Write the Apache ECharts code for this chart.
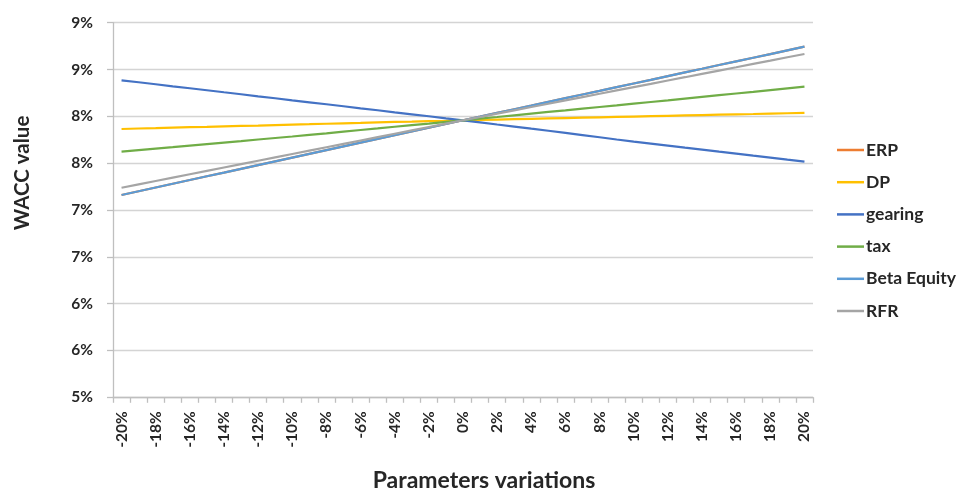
<!DOCTYPE html>
<html>
<head>
<meta charset="utf-8">
<script src="https://cdn.jsdelivr.net/npm/echarts@6/dist/echarts.min.js"></script>
<style>
  html, body { margin: 0; padding: 0; background: #ffffff; }
  #chart { width: 961px; height: 490px; }
</style>
</head>
<body>
<div id="chart"></div>
<script>
// Parameter variation steps (1% apart), labelled every 2%
const categories = [
  '-20%','-19%','-18%','-17%','-16%','-15%','-14%','-13%','-12%','-11%',
  '-10%','-9%','-8%','-7%','-6%','-5%','-4%','-3%','-2%','-1%',
  '0%','1%','2%','3%','4%','5%','6%','7%','8%','9%',
  '10%','11%','12%','13%','14%','15%','16%','17%','18%','19%','20%'
];

// WACC (%) for each sensitivity
const erp = [
  7.160,7.200,7.240,7.280,7.320,7.360,7.399,7.439,7.479,7.519,
  7.559,7.599,7.639,7.679,7.719,7.759,7.798,7.838,7.878,7.918,
  7.958,7.997,8.037,8.076,8.115,8.155,8.194,8.233,8.272,8.312,
  8.351,8.390,8.430,8.469,8.508,8.548,8.587,8.626,8.665,8.705,8.744
];
const dp = [
  7.865,7.870,7.874,7.879,7.884,7.888,7.893,7.898,7.902,7.907,
  7.912,7.916,7.921,7.926,7.930,7.935,7.940,7.944,7.949,7.953,
  7.958,7.962,7.966,7.970,7.974,7.978,7.982,7.986,7.990,7.994,
  7.998,8.002,8.006,8.010,8.014,8.018,8.022,8.025,8.029,8.033,8.037
];
const gearing = [
  8.385,8.364,8.343,8.321,8.300,8.279,8.257,8.236,8.214,8.193,
  8.171,8.150,8.129,8.108,8.086,8.065,8.043,8.022,8.001,7.979,
  7.958,7.936,7.913,7.891,7.868,7.846,7.823,7.800,7.777,7.753,
  7.730,7.709,7.688,7.666,7.645,7.623,7.602,7.580,7.559,7.537,7.516
];
const tax = [
  7.623,7.639,7.655,7.671,7.688,7.704,7.720,7.736,7.753,7.769,
  7.785,7.802,7.819,7.837,7.854,7.871,7.889,7.906,7.923,7.941,
  7.958,7.976,7.993,8.011,8.029,8.047,8.064,8.082,8.100,8.117,
  8.135,8.153,8.171,8.190,8.208,8.226,8.244,8.262,8.281,8.299,8.317
];
const betaEquity = [
  7.160,7.200,7.240,7.280,7.320,7.360,7.399,7.439,7.479,7.519,
  7.559,7.599,7.639,7.679,7.719,7.759,7.798,7.838,7.878,7.918,
  7.958,7.997,8.037,8.076,8.115,8.155,8.194,8.233,8.272,8.312,
  8.351,8.390,8.430,8.469,8.508,8.548,8.587,8.626,8.665,8.705,8.744
];
const rfr = [
  7.238,7.274,7.310,7.346,7.382,7.418,7.454,7.490,7.526,7.562,
  7.598,7.634,7.670,7.706,7.742,7.778,7.814,7.850,7.886,7.922,
  7.958,7.993,8.029,8.064,8.100,8.135,8.170,8.206,8.241,8.277,
  8.312,8.347,8.383,8.418,8.454,8.489,8.524,8.560,8.595,8.631,8.666
];

const seriesNames = ['ERP', 'DP', 'gearing', 'tax', 'Beta Equity', 'RFR'];
const seriesData = [erp, dp, gearing, tax, betaEquity, rfr];
const seriesColors = ['#ED7D31', '#FFC000', '#4472C4', '#70AD47', '#5B9BD5', '#A5A5A5'];

const FONT = 'Lato, "Open Sans", sans-serif';
const TEXT = '#262626';

const chart = echarts.init(document.getElementById('chart'), null, { renderer: 'canvas' });

chart.setOption({
  animation: false,
  backgroundColor: '#ffffff',
  grid: { left: 113, right: 148, top: 22.7, bottom: 92.7, containLabel: false },
  legend: {
    orient: 'vertical',
    left: 832,
    top: 135,
    icon: 'rect',
    itemWidth: 27,
    itemHeight: 2.5,
    itemGap: 12.2,
    textStyle: { fontFamily: FONT, fontWeight: 'bold', fontSize: 17.5, color: TEXT, lineHeight: 20, padding: [0, 0, 0, -3] },
    data: seriesNames
  },
  xAxis: {
    type: 'category',
    data: categories,
    boundaryGap: true,
    axisLine: { show: true, lineStyle: { color: '#BFBFBF', width: 1.3 } },
    axisTick: { show: true, interval: 0, length: 5.5, lineStyle: { color: '#BFBFBF', width: 1.3 } },
    axisLabel: {
      interval: 1,
      rotate: 90,
      margin: 14,
      fontFamily: FONT,
      fontWeight: 'bold',
      fontSize: 15.5,
      color: TEXT
    },
    splitLine: { show: false }
  },
  yAxis: {
    type: 'value',
    min: 5,
    max: 9,
    interval: 0.5,
    axisLine: { show: true, lineStyle: { color: '#BFBFBF', width: 1.3 } },
    axisTick: { show: true, length: 6, lineStyle: { color: '#BFBFBF', width: 1.3 } },
    axisLabel: {
      margin: 20,
      fontFamily: FONT,
      fontWeight: 'bold',
      fontSize: 15.5,
      color: TEXT,
      formatter: v => Math.round(v) + '%'
    },
    splitLine: { show: true, lineStyle: { color: '#D4D4D4', width: 1.4 } }
  },
  graphic: [
    {
      type: 'text',
      x: 484, y: 481,
      style: {
        text: 'Parameters variations',
        font: 'bold 23px ' + FONT,
        fill: TEXT,
        align: 'center',
        verticalAlign: 'middle'
      }
    },
    {
      type: 'text',
      x: 22, y: 173,
      rotation: Math.PI / 2,
      style: {
        text: 'WACC value',
        font: 'bold 20.5px ' + FONT,
        fill: TEXT,
        align: 'center',
        verticalAlign: 'middle'
      }
    }
  ],
  series: seriesNames.map((name, i) => ({
    name,
    type: 'line',
    data: seriesData[i],
    symbol: 'none',
    smooth: false,
    lineStyle: { color: seriesColors[i], width: 2.2 },
    itemStyle: { color: seriesColors[i] }
  }))
});
</script>
</body>
</html>
